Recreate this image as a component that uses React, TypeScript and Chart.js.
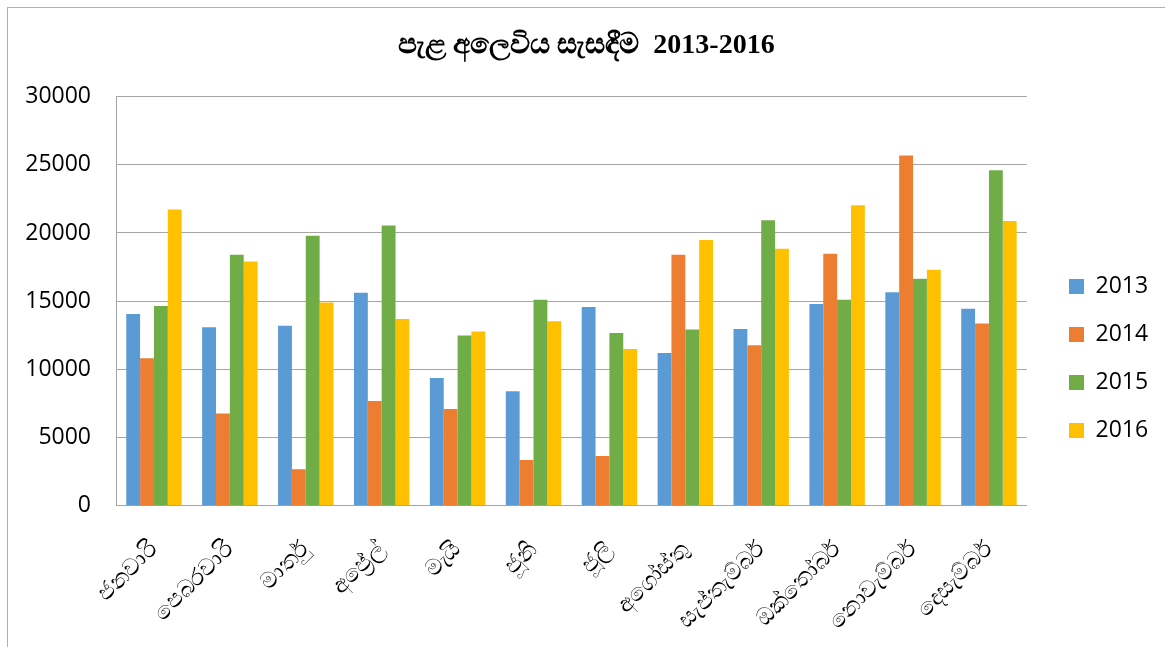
import React, { useEffect, useRef } from "react";
import { Chart, registerables } from "chart.js";

Chart.register(...registerables);

const TITLE = "පැළ අලෙවිය සැසඳීම  2013-2016";
const MONTHS = [
  "ජනවාරි",
  "පෙබරවාරි",
  "මාර්තු",
  "අප්‍රේල්",
  "මැයි",
  "ජූනි",
  "ජූලි",
  "අගෝස්තු",
  "සැප්තැම්බර්",
  "ඔක්තෝබර්",
  "නොවැම්බර්",
  "දෙසැම්බර්",
];
const SERIES_LABELS = ["2013", "2014", "2015", "2016"];
const SALES_2013 = [14050, 13080, 13190, 15610, 9360, 8390, 14570, 11190, 12950, 14790, 15660, 14440];
const SALES_2014 = [10810, 6770, 2670, 7680, 7090, 3350, 3640, 18400, 11760, 18470, 25680, 13370];
const SALES_2015 = [14640, 18400, 19790, 20550, 12490, 15100, 12660, 12930, 20940, 15100, 16640, 24590];
const SALES_2016 = [21730, 17910, 14910, 13690, 12780, 13520, 11490, 19480, 18840, 22040, 17300, 20870];
const COLORS = ["#5B9BD5", "#ED7D31", "#70AD47", "#FFC000"];
const Y_MIN = 0;
const Y_MAX = 30000;
const Y_STEP = 5000;

const W = 1165;
const H = 647;

const layoutTweak = {
  id: "layoutTweak",
  afterLayout(chart: any) {
    const lg = chart.legend;
    if (lg) {
      const pad = 25;
      const dx = 1069 - pad - lg.left;
      lg.left += dx;
      lg.right += dx;
      const dy = 250 - lg.top;
      lg.top += dy;
      lg.bottom = H;
    }
    const tb = chart.titleBlock;
    if (tb) {
      tb.left += 16;
      tb.right += 16;
    }
  },
};

export default function App() {
  const ref = useRef<HTMLCanvasElement | null>(null);

  useEffect(() => {
    if (!ref.current) return;
    const series = [SALES_2013, SALES_2014, SALES_2015, SALES_2016];
    const chart = new Chart(ref.current, {
      type: "bar",
      data: {
        labels: MONTHS,
        datasets: series.map((d, i) => ({
          label: SERIES_LABELS[i],
          data: d,
          backgroundColor: COLORS[i],
          borderWidth: 0,
          categoryPercentage: 0.73,
          barPercentage: 1.0,
        })),
      },
      options: {
        responsive: false,
        animation: false,
        devicePixelRatio: 1,
        layout: { padding: { top: 0, left: 0, right: 24, bottom: 0 } },
        plugins: {
          title: {
            display: true,
            text: TITLE,
            color: "#000",
            font: { family: "'Liberation Serif', 'DejaVu Serif', serif", size: 28, weight: "bold" },
            padding: { top: 29, bottom: 34 },
          },
          legend: {
            display: true,
            position: "right",
            align: "start",
            labels: {
              color: "#000",
              boxWidth: 15,
              boxHeight: 15,
              padding: 25,
              font: { family: "'Open Sans', 'Liberation Sans', sans-serif", size: 23 },
            },
          },
          tooltip: { enabled: false },
        },
        scales: {
          x: {
            grid: { display: false, drawTicks: false },
            border: { display: true, color: "#a6a6a6", width: 1 },
            ticks: {
              color: "#000",
              autoSkip: false,
              minRotation: 45,
              maxRotation: 45,
              padding: 30,
              font: { family: "'Noto Sans', 'Open Sans', sans-serif", size: 23 },
            },
            afterFit: (scale: any) => {
              scale.height = H - 505.7;
            },
          },
          y: {
            min: Y_MIN,
            max: Y_MAX,
            grid: { color: "#a6a6a6", lineWidth: 1, drawTicks: false },
            border: { display: true, color: "#a6a6a6", width: 1 },
            ticks: {
              stepSize: Y_STEP,
              color: "#000",
              padding: 25,
              font: { family: "'Open Sans', 'Liberation Sans', sans-serif", size: 23 },
              callback: (v: any) => String(v),
            },
            afterFit: (scale: any) => {
              scale.width = 116;
            },
          },
        },
      },
      plugins: [layoutTweak],
    });
    return () => chart.destroy();
  }, []);

  return (
    <div style={{ position: "fixed", left: 0, top: 0, width: W, height: H, background: "#fff" }}>
      <canvas ref={ref} width={W} height={H} style={{ display: "block", width: W, height: H }} />
      <div
        style={{
          position: "absolute",
          left: 7,
          top: 7,
          right: 0,
          bottom: 0,
          borderTop: "1px solid #b0b0b0",
          borderLeft: "1px solid #b0b0b0",
          pointerEvents: "none",
        }}
      />
    </div>
  );
}
